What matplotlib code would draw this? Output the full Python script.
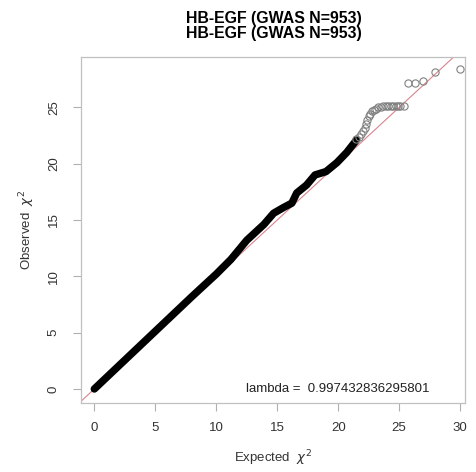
import matplotlib
matplotlib.use("Agg")
import matplotlib.pyplot as plt

plt.rcParams['font.family'] = ['Liberation Sans', 'DejaVu Sans']
plt.rcParams['mathtext.fontset'] = 'dejavusans'

title = "HB-EGF (GWAS N=953)"
lambda_text = "lambda =  0.997432836295801"

# dense part of the QQ curve (expected, observed)
dense_exp = [0.0, 2.0, 4.0, 6.0, 8.0, 10.0, 11.2, 12.5, 13.9, 14.7, 15.5,
             16.2, 16.6, 17.4, 18.1, 19.0, 19.9, 20.7, 21.5]
dense_obs = [0.0, 2.05, 4.1, 6.15, 8.2, 10.2, 11.5, 13.2, 14.6, 15.6, 16.1,
             16.5, 17.4, 18.1, 19.0, 19.3, 20.1, 21.0, 22.1]

# sparse tail points
tail_exp = [21.5, 21.7, 21.9, 22.05, 22.2, 22.3, 22.4, 22.5, 22.6, 22.75,
            22.9, 23.1, 23.3, 23.5, 23.7, 23.9, 24.1, 24.3, 24.5, 24.7,
            24.9, 25.1, 25.4, 25.76, 26.26, 26.94, 27.96, 30.0]
tail_obs = [22.15, 22.4, 22.6, 22.9, 23.2, 23.5, 23.9, 24.2, 24.45, 24.65,
            24.8, 24.9, 25.0, 25.05, 25.1, 25.1, 25.1, 25.1, 25.1, 25.1,
            25.1, 25.1, 25.1, 27.2, 27.2, 27.3, 28.1, 28.4]

fig = plt.figure(figsize=(4.76, 4.72), dpi=100)
ax = fig.add_axes([0.1695, 0.1468, 0.8074, 0.7331])

ax.plot([-5, 40], [-5, 40], color='#d8848c', lw=0.8, zorder=1)
ax.plot(dense_exp, dense_obs, color='black', lw=5.4,
        solid_capstyle='round', solid_joinstyle='round', zorder=2)
ax.plot(tail_exp, tail_obs, ls='none', marker='o', ms=5.2, mfc='none',
        mec='#808080', mew=0.8, zorder=3)

ax.text(20, 0, lambda_text, ha='center', va='center', fontsize=9.5,
        color='#222222')

ax.set_xlim(-1.12, 30.4)
ax.set_ylim(-1.22, 29.5)
ax.set_xticks([0, 5, 10, 15, 20, 25, 30])
ax.set_yticks([0, 5, 10, 15, 20, 25])
ax.tick_params(colors='#b0b0b0', labelcolor='#333333', labelsize=9.5,
               length=6, width=0.8)
ax.tick_params(axis='x', pad=8)
ax.tick_params(axis='y', pad=9)
for lab in ax.get_yticklabels():
    lab.set_rotation(90)
    lab.set_va('center')
for s in ax.spines.values():
    s.set_color('#c0c0c0')
    s.set_linewidth(0.9)

ax.set_xlabel(r'Expected  $\chi^2$', fontsize=9.5, color='#333333', labelpad=10)
ax.set_ylabel(r'Observed  $\chi^2$', fontsize=9.5, color='#333333', labelpad=8)

fig.text(0.576, 0.960, title, ha='center', va='center', fontsize=11.4,
         fontweight='bold')
fig.text(0.576, 0.930, title, ha='center', va='center', fontsize=11.4,
         fontweight='bold')

fig.savefig('out.png', dpi=100)
